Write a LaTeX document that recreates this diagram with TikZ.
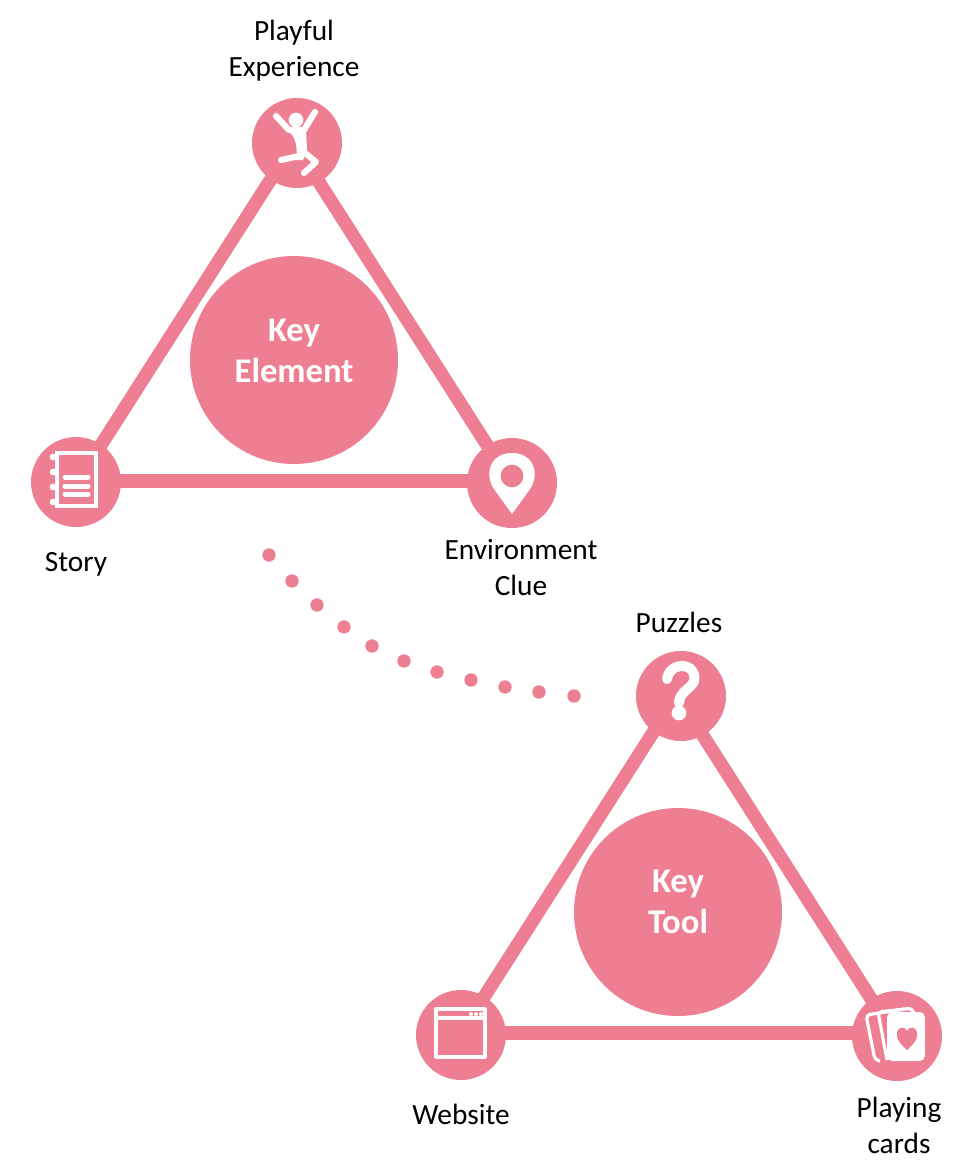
\documentclass[tikz,border=0pt]{standalone}
\usepackage{fontspec}
\setmainfont{Carlito}
\definecolor{rosa}{HTML}{EE7E91}
\begin{document}
\begin{tikzpicture}[x=0.75pt, y=-0.75pt]
    \tikzstyle{hub}  = [circle, fill=rosa, inner sep=0pt, minimum size=67.5pt]
    \tikzstyle{core} = [circle, fill=rosa, inner sep=0pt, minimum size=156pt]
    \tikzstyle{cort} = [text=white, align=center, font=\fontsize{26}{31}\selectfont\bfseries]
    \tikzstyle{lab}  = [align=center, font=\fontsize{22}{27}\selectfont]
    \tikzstyle{link} = [draw=rosa, line width=10pt]
    \tikzstyle{dotn} = [circle, fill=rosa, inner sep=0pt, minimum size=10pt]
    \tikzstyle{ico}  = [draw=white, line width=4.6pt, line cap=round, line join=round]
    \tikzstyle{icoi} = [draw=white, line width=2.4pt, line join=round]

    \useasboundingbox (0,0) rectangle (978,1174);

    % upper triangle
    \node[hub] (play) at (297,143) {};
    \node[hub] (story) at (76,482) {};
    \node[hub] (clue) at (512,483) {};
    \node[core] (elem) at (294,360) {};
    \node[cort] (telem) at (294,351) {Key\\Element};
    \draw[link] ([shift={(-3,0)}]play.center) -- ([shift={(2,-1)}]story.center);
    \draw[link] ([shift={(-3,0)}]play.center) -- ([shift={(-2,-2)}]clue.center);
    \draw[link] ([shift={(2,-1)}]story.center) -- ([shift={(-2,-2)}]clue.center);

    % lower triangle
    \node[hub] (puz) at (681,696) {};
    \node[hub] (web) at (461,1035) {};
    \node[hub] (card) at (897,1036) {};
    \node[core] (tool) at (678,912) {};
    \node[cort] (ttool) at (678,902) {Key\\Tool};
    \draw[link] ([shift={(-4,-1)}]puz.center) -- ([shift={(0,-2)}]web.center);
    \draw[link] ([shift={(-4,-1)}]puz.center) -- ([shift={(-4,-3)}]card.center);
    \draw[link] ([shift={(0,-2)}]web.center) -- ([shift={(-4,-3)}]card.center);

    % labels
    \node[lab] (lplay) at (294,51) {Playful\\Experience};
    \node[lab] (lstory) at (76,564) {Story};
    \node[lab] (lclue) at (521,568) {Environment\\Clue};
    \node[lab] (lpuz) at (679,622) {Puzzles};
    \node[lab] (lweb) at (461,1114) {Website};
    \node[lab] (lcard) at (899,1125) {Playing\\cards};

    % dots between the two
    \foreach \x/\y [count=\c] in {269/555, 292/581, 317/605, 344/627, 372/646, 404/661,
                                  437/672, 471/680, 505/687, 539/692, 574/696}
        \node[dotn] (d\c) at (\x,\y) {};

    % jumper
    \fill[white] (296,120) circle (5.5pt);
    \draw[ico] (276,116) -- (289,130) -- (304,130) -- (315,112);
    \fill[white] (288,130) -- (306,128) -- (307,150) -- (303,160) -- (296,160)
        .. controls (298,148) and (296,138) .. (288,130) -- cycle;
    \draw[ico] (299,156) -- (281,160);
    \draw[ico] (305,153) -- (316,162) -- (304,173);

    % notebook
    \draw[ico, line width=3.4pt, line cap=butt, line join=miter] (57,453) rectangle (96,506);
    \foreach \y in {477,486,494}
        \draw[ico, line width=3.75pt] (65,\y) -- (88,\y);
    \foreach \y in {457,472,487,502}
        \fill[white] (53,\y) circle (2.5pt);

    % map pin
    \fill[white] (512,514) -- (494,489) .. controls (484,474) and (490,453) .. (512,453)
        .. controls (534,453) and (540,474) .. (530,489) -- cycle;
    \fill[rosa] (512,476) circle (8.5pt);

    % question mark
    \draw[ico, line width=7.5pt] (667,679) .. controls (669,668) and (678,666) .. (682,666)
        .. controls (692,666) and (696,675) .. (694,681)
        .. controls (691,689) and (679,692) .. (679,703);
    \fill[white] (679,713) circle (5.5pt);

    % browser window
    \draw[icoi] (436,1009) rectangle (485,1057);
    \draw[icoi] (436,1018) -- (485,1018);
    \foreach \x in {471,476,481}
        \fill[white] (\x,1014) circle (1.5pt);

    % cards
    \draw[icoi, rounded corners=3pt] (880,1061) -- (875,1060) -- (866,1015) -- (912,1008) -- (914,1014);
    \draw[icoi, rounded corners=3pt] (887,1060) -- (878,1012) -- (905,1009);
    \fill[white, rounded corners=4pt] (887,1012) rectangle (925,1061);
    \fill[rosa] (907,1050) .. controls (899,1043) and (896,1038) .. (897,1033)
        .. controls (898,1026) and (905,1026) .. (907,1031)
        .. controls (909,1026) and (916,1026) .. (917,1033)
        .. controls (918,1038) and (915,1043) .. (907,1050) -- cycle;
\end{tikzpicture}
\end{document}
